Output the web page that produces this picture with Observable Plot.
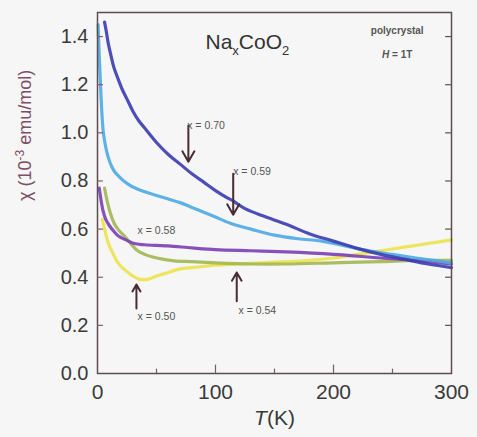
<!DOCTYPE html>
<html><head><meta charset="utf-8">
<script src="https://cdn.jsdelivr.net/npm/d3@7"></script>
<script src="https://cdn.jsdelivr.net/npm/@observablehq/plot@0.6"></script>
<style>body{margin:0;background:#f6f6f6} svg{display:block}</style>
</head><body><div id="chart"></div>
<script>
// Temperature (K) and susceptibility (10^-3 emu/mol) for each composition
const T070 = [6, 7.5, 9, 11, 14, 17, 21, 25, 30, 35, 40, 50, 60, 70, 80, 90, 100, 110, 114, 117, 125, 140, 160, 180, 200, 220, 240, 260, 280, 300];
const chi070 = [1.46, 1.42, 1.375, 1.33, 1.27, 1.23, 1.18, 1.14, 1.09, 1.05, 1.02, 0.96, 0.91, 0.87, 0.83, 0.795, 0.76, 0.73, 0.72, 0.71, 0.685, 0.655, 0.62, 0.58, 0.55, 0.52, 0.495, 0.475, 0.455, 0.44];

const T059 = [0.5, 1, 2, 3, 4, 5, 7, 9, 12, 15, 20, 25, 30, 40, 50, 60, 70, 80, 90, 100, 115, 130, 150, 170, 190, 210, 230, 250, 270, 300];
const chi059 = [1.45, 1.38, 1.26, 1.15, 1.06, 1.0, 0.94, 0.9, 0.86, 0.835, 0.81, 0.79, 0.775, 0.755, 0.74, 0.725, 0.71, 0.69, 0.67, 0.65, 0.62, 0.60, 0.575, 0.56, 0.55, 0.53, 0.51, 0.495, 0.48, 0.46];

const T058 = [1.5, 3, 4.5, 7, 10, 14, 18, 25, 31, 40, 50, 60, 80, 100, 130, 160, 200, 240, 270, 300];
const chi058 = [0.77, 0.72, 0.68, 0.64, 0.615, 0.59, 0.57, 0.553, 0.54, 0.535, 0.532, 0.53, 0.522, 0.515, 0.51, 0.505, 0.495, 0.48, 0.47, 0.455];

const T054 = [6, 8.5, 11, 14, 18, 23, 28, 34, 40, 46, 55, 65, 80, 100, 130, 160, 200, 240, 270, 300];
const chi054 = [0.77, 0.71, 0.665, 0.625, 0.595, 0.57, 0.54, 0.51, 0.495, 0.485, 0.475, 0.468, 0.465, 0.46, 0.455, 0.455, 0.46, 0.465, 0.47, 0.47];

const T050 = [4, 6, 8, 10, 13, 16, 19, 22, 26, 30, 35, 40, 45, 50, 60, 70, 80, 90, 100, 120, 140, 160, 180, 200, 220, 240, 260, 280, 300];
const chi050 = [0.64, 0.6, 0.56, 0.53, 0.5, 0.47, 0.45, 0.435, 0.42, 0.405, 0.392, 0.39, 0.395, 0.405, 0.42, 0.435, 0.44, 0.445, 0.45, 0.455, 0.46, 0.465, 0.47, 0.48, 0.495, 0.51, 0.525, 0.54, 0.555];

const seriesNames = ["0.50", "0.54", "0.58", "0.59", "0.70"];
const seriesColors = ["#ece34e", "#a3b752", "#7b3fb5", "#4caae4", "#3b3cb0"];
const seriesT = [T050, T054, T058, T059, T070];
const seriesChi = [chi050, chi054, chi058, chi059, chi070];

const xTicks = [0, 100, 200, 300];
const xMinor = [50, 150, 250];
const yTicks = [0, 0.2, 0.4, 0.6, 0.8, 1.0, 1.2, 1.4];

// Arrows: T position, tail chi, tip chi
const arrowT = [77, 115, 33, 118];
const arrowFrom = [1.03, 0.83, 0.27, 0.30];
const arrowTo = [0.88, 0.66, 0.37, 0.42];

// Composition labels
const labelText = ["x = 0.70", "x = 0.59", "x = 0.58", "x = 0.50", "x = 0.54"];
const labelT = [76, 115, 34, 34, 119.5];
const labelChi = [1.03, 0.84, 0.595, 0.235, 0.26];

const titleText = "NaxCoO2";
const noteText = ["polycrystal", "H = 1T"];
const noteT = [254, 254];
const noteChi = [1.425, 1.325];
const xLabel = "T(K)";
const yLabel = "χ (10-3 emu/mol)";

const lines = seriesNames.map((n, i) => {
  const rows = seriesT[i].map((t, j) => ({T: t, chi: seriesChi[i][j]}));
  return Plot.line(rows, {x: "T", y: "chi", stroke: seriesColors[i], strokeWidth: 3.2, strokeOpacity: 0.9, curve: "catmull-rom"});
});

const arrows = arrowT.map((t, i) => ({T: t, a: arrowFrom[i], b: arrowTo[i]}));
const labels = labelText.map((s, i) => ({s, T: labelT[i], chi: labelChi[i]}));
const notes = noteText.map((s, i) => ({s, T: noteT[i], chi: noteChi[i]}));

const chart = Plot.plot({
  width: 477, height: 437,
  marginLeft: 97, marginRight: 26, marginTop: 12, marginBottom: 64,
  style: {background: "#f6f6f6", fontFamily: "'Liberation Sans', Arial, sans-serif", color: "#333"},
  x: {domain: [0, 300]},
  y: {domain: [0, 1.5]},
  marks: [
    ...lines,
    Plot.frame({stroke: "#5e4c50", strokeWidth: 1.5}),
    Plot.ruleY(yTicks.slice(1), {x1: 0, x2: 5, stroke: "#8a5a5a", strokeWidth: 1.2}),
    Plot.ruleY(yTicks.slice(1), {x1: 295, x2: 300, stroke: "#555", strokeWidth: 1.2}),
    Plot.ruleX(xTicks.slice(1, 3), {y1: 0, y2: 0.035, stroke: "#666", strokeWidth: 1.2}),
    Plot.ruleX(xMinor, {y1: 0, y2: 0.018, stroke: "#666", strokeWidth: 1.2}),
    Plot.axisY({ticks: yTicks, tickSize: 0, tickPadding: 9, fontSize: 20, label: null, tickFormat: d3.format(".1f"), fill: "#3a3a3a"}),
    Plot.axisX({ticks: xTicks, tickSize: 0, tickPadding: 11, fontSize: 21, label: null, fill: "#3a3a3a"}),
    Plot.arrow(arrows, {x1: "T", y1: "a", x2: "T", y2: "b", stroke: "#4a2c34", strokeWidth: 2, headLength: 9}),
    Plot.text(labels, {x: "T", y: "chi", text: "s", textAnchor: "start", fontSize: 10.5, fill: "#555"}),
    Plot.text([titleText], {x: 91.5, y: 1.375, text: d => d, textAnchor: "start", fontSize: 21, fill: "#333"}),
    Plot.text(notes, {x: "T", y: "chi", text: "s", fontSize: 10, fontWeight: "bold", fill: "#555"}),
    Plot.text([xLabel], {frameAnchor: "bottom", dy: 51, text: d => d, fontSize: 21, fill: "#3a3a3a"}),
    Plot.text([yLabel], {frameAnchor: "left", dx: -72, dy: 8, rotate: -90, text: d => d, fontSize: 18, fill: "#7e5068"})
  ]
});

chart.querySelectorAll("text").forEach(t => {
  const s = t.textContent;
  if (s === titleText) t.innerHTML = 'Na<tspan dy="6" font-size="13">x</tspan><tspan dy="-6">CoO</tspan><tspan dy="6" font-size="13">2</tspan>';
  else if (s === xLabel) t.innerHTML = '<tspan font-style="italic">T</tspan>(K)';
  else if (s === "H = 1T") t.innerHTML = '<tspan font-style="italic">H</tspan> = 1T';
  else if (s === yLabel) t.innerHTML = 'χ (10<tspan dy="-7" font-size="12">-3</tspan><tspan dy="7"> emu/mol)</tspan>';
});

document.getElementById("chart").appendChild(chart);
</script>
</body></html>
